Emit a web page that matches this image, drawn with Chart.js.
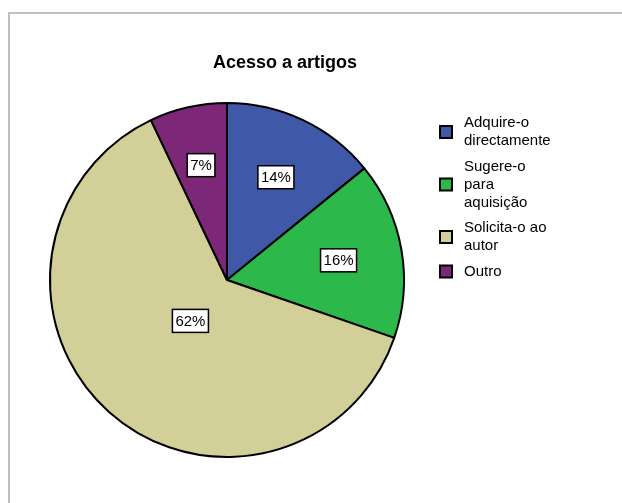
<!DOCTYPE html>
<html>
<head>
<meta charset="utf-8">
<script src="https://cdn.jsdelivr.net/npm/chart.js@4.4.1/dist/chart.umd.min.js"></script>
<style>
  html, body { margin: 0; padding: 0; background: #fff; }
</style>
</head>
<body>
<canvas id="myChart-Acesso" width="622" height="503"></canvas>
<script>
const titulo = 'Acesso a artigos';
const categorias = ['Adquire-o directamente', 'Sugere-o para aquisição', 'Solicita-o ao autor', 'Outro'];
const percentagens = [14, 16, 62, 7];
const cores = ['#3f59a8', '#2db84b', '#d3cf99', '#7d2779'];

// moldura cinzenta (só topo e esquerda visíveis)
const moldura = {
  id: 'moldura',
  beforeDraw(chart) {
    const c = chart.ctx;
    c.save();
    c.strokeStyle = '#c0c0c0';
    c.lineWidth = 2;
    c.beginPath();
    c.moveTo(9, chart.height);
    c.lineTo(9, 13);
    c.lineTo(chart.width, 13);
    c.stroke();
    c.restore();
  }
};

const tituloPlugin = {
  id: 'tituloPlugin',
  afterDraw(chart) {
    const c = chart.ctx;
    c.save();
    c.font = 'bold 18px "Liberation Sans", Arial, sans-serif';
    c.fillStyle = '#000';
    c.textAlign = 'center';
    c.textBaseline = 'middle';
    c.fillText(titulo, 285, 63);
    c.restore();
  }
};

// rótulos de percentagem em caixas brancas
const rotulos = {
  id: 'rotulos',
  afterDatasetsDraw(chart, args, opts) {
    const c = chart.ctx;
    const arcs = chart.getDatasetMeta(0).data;
    c.save();
    c.font = '15px "Liberation Sans", Arial, sans-serif';
    c.textAlign = 'center';
    c.textBaseline = 'middle';
    arcs.forEach((arc, i) => {
      const mid = (arc.startAngle + arc.endAngle) / 2;
      const r = arc.outerRadius * opts.dist[i];
      const x = arc.x + Math.cos(mid) * r;
      const y = arc.y + Math.sin(mid) * r;
      const txt = chart.data.datasets[0].data[i] + '%';
      const w = c.measureText(txt).width + 6;
      const h = 23;
      c.fillStyle = '#fff';
      c.fillRect(x - w / 2, y - h / 2, w, h);
      c.strokeStyle = '#000';
      c.lineWidth = 1.5;
      c.strokeRect(x - w / 2, y - h / 2, w, h);
      c.fillStyle = '#000';
      c.fillText(txt, x, y + 1);
    });
    c.restore();
  }
};

// legenda à direita com quebra de linha
const legenda = {
  id: 'legenda',
  afterDraw(chart) {
    const c = chart.ctx;
    c.save();
    c.font = '15px "Liberation Sans", Arial, sans-serif';
    c.textBaseline = 'middle';
    const maxW = 92;
    let y = 123;
    chart.data.labels.forEach((lab, i) => {
      const palavras = lab.split(' ');
      const linhas = [];
      let atual = '';
      palavras.forEach(p => {
        const teste = atual ? atual + ' ' + p : p;
        if (atual && c.measureText(teste).width > maxW) {
          linhas.push(atual);
          atual = p;
        } else {
          atual = teste;
        }
      });
      linhas.push(atual);
      const cy = y + (linhas.length - 1) * 18 / 2;
      c.fillStyle = cores[i];
      c.fillRect(440, cy - 6, 12, 12);
      c.strokeStyle = '#000';
      c.lineWidth = 2;
      c.strokeRect(440, cy - 6, 12, 12);
      c.fillStyle = '#000';
      linhas.forEach((l, k) => c.fillText(l, 464, y + k * 18));
      y += linhas.length * 18 + 7.5;
    });
    c.restore();
  }
};

new Chart(document.getElementById('myChart-Acesso'), {
  type: 'pie',
  data: {
    labels: categorias,
    datasets: [{
      data: percentagens,
      backgroundColor: cores,
      borderColor: '#000',
      borderWidth: 2
    }]
  },
  options: {
    responsive: false,
    animation: false,
    layout: {
      padding: { left: 49, right: 217, top: 102, bottom: 45 }
    },
    plugins: {
      legend: { display: false },
      tooltip: { enabled: false },
      rotulos: { dist: [0.643, 0.64, 0.31, 0.665] }
    }
  },
  plugins: [moldura, rotulos, tituloPlugin, legenda]
});
</script>
</body>
</html>
